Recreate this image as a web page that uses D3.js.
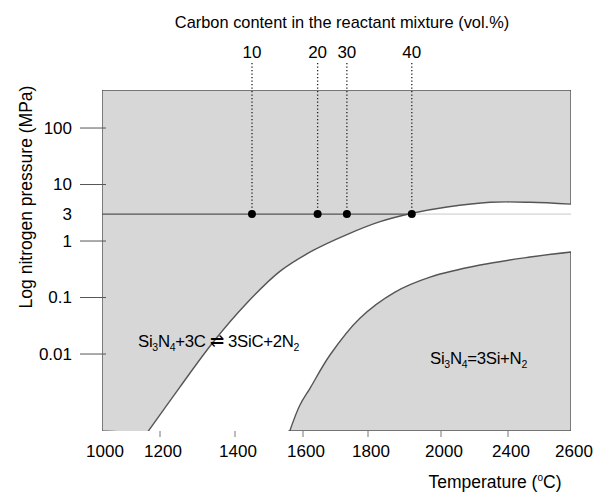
<!DOCTYPE html>
<html>
<head>
<meta charset="utf-8">
<script src="https://cdn.jsdelivr.net/npm/d3@7"></script>
<style>
  body { margin: 0; background: #fff; }
  svg { display: block; font-family: "Liberation Sans", Arial, sans-serif; }
</style>
</head>
<body>
<svg id="chart"></svg>
<script>
// temperature ticks (the original axis is not evenly spaced)
const tempTicks = [1000, 1200, 1400, 1600, 1800, 2000, 2400, 2600];
const pressTicks = [100, 10, 1, 0.1, 0.01];

// carbon content markers on the 3 MPa line
const carbonLabels = [10, 20, 30, 40];
const carbonTemps = [1450, 1645, 1735, 1920];
const linePressure = 3;

// Si3N4 + 3C = 3SiC + 2N2 boundary
const sicTemps = [1155, 1253, 1341, 1435, 1532, 1631, 1735, 1833, 1921, 2036, 2293, 2470, 2600];
const sicPress = [0.0004, 0.0026, 0.016, 0.08, 0.29, 0.68, 1.3, 2.2, 3.1, 4.0, 4.85, 4.85, 4.5];

// Si3N4 = 3Si + N2 boundary
const siTemps = [1559, 1591, 1622, 1683, 1775, 1874, 1970, 2233, 2470, 2600];
const siPress = [0.0004, 0.00125, 0.0025, 0.0096, 0.043, 0.125, 0.23, 0.376, 0.52, 0.64];

const width = 597, height = 493;
const m = { left: 102, right: 571, top: 90, bottom: 431 };

const svg = d3.select("#chart")
    .attr("width", width)
    .attr("height", height)
    .attr("viewBox", [0, 0, width, height]);

// piecewise x scale so ticks land where the drawing put them
const x = d3.scaleLinear()
    .domain(tempTicks)
    .range([m.left, 160, 235, 303, 368, 441, 508, m.right]);

const y = d3.scaleLog()
    .domain([0.000434, 471])
    .range([m.bottom, m.top]);

const sic = sicTemps.map((t, i) => [t, sicPress[i]]);
const si = siTemps.map((t, i) => [t, siPress[i]]);

const line = d3.line()
    .x(d => x(d[0]))
    .y(d => y(d[1]))
    .curve(d3.curveCatmullRom.alpha(0.5));

svg.append("defs").append("clipPath")
    .attr("id", "plot")
  .append("rect")
    .attr("x", m.left).attr("y", m.top)
    .attr("width", m.right - m.left).attr("height", m.bottom - m.top);

const plot = svg.append("g").attr("clip-path", "url(#plot)");

const grey = "#d7d7d7";

// upper-left grey region: frame corner, then back down the SiC curve
const sicRev = line(sic.slice().reverse());
plot.append("path")
    .attr("d", `M${m.left},${m.bottom}L${m.left},${m.top}L${m.right},${m.top}L${m.right},${y(sic[sic.length - 1][1])}`
        + sicRev.replace(/^M/, "L") + `L${m.left},${m.bottom}Z`)
    .attr("fill", grey)
    .attr("stroke", "#555")
    .attr("stroke-width", 1.4);

// lower-right grey region
plot.append("path")
    .attr("d", line(si) + `L${m.right},${m.bottom}L${x(si[0][0])},${m.bottom}Z`)
    .attr("fill", grey)
    .attr("stroke", "#555")
    .attr("stroke-width", 1.4);

// 3 MPa line
const y3 = y(linePressure);
const tCross = carbonTemps[carbonTemps.length - 1];
svg.append("line")
    .attr("x1", m.left).attr("x2", x(tCross))
    .attr("y1", y3).attr("y2", y3)
    .attr("stroke", "#555").attr("stroke-width", 1.2);
svg.append("line")
    .attr("x1", x(tCross)).attr("x2", m.right)
    .attr("y1", y3).attr("y2", y3)
    .attr("stroke", "#c8c8c8").attr("stroke-width", 1);

// dotted carbon-content guides and dots
svg.append("g")
  .selectAll("line")
  .data(carbonTemps)
  .join("line")
    .attr("x1", d => x(d)).attr("x2", d => x(d))
    .attr("y1", 63).attr("y2", y3)
    .attr("stroke", "#222")
    .attr("stroke-width", 1.3)
    .attr("stroke-dasharray", "1.3,2.2");

svg.append("g")
  .selectAll("circle")
  .data(carbonTemps)
  .join("circle")
    .attr("cx", d => x(d))
    .attr("cy", y3)
    .attr("r", 4)
    .attr("fill", "#000");

svg.append("g")
    .attr("text-anchor", "middle")
    .attr("font-size", 17)
  .selectAll("text")
  .data(carbonLabels)
  .join("text")
    .attr("x", (d, i) => x(carbonTemps[i]))
    .attr("y", 58)
    .text(d => d);

svg.append("text")
    .attr("x", 342).attr("y", 28)
    .attr("text-anchor", "middle")
    .attr("font-size", 16.4)
    .text("Carbon content in the reactant mixture  (vol.%)");

// y axis: ticks reach a little inside the frame
const yAxis = svg.append("g");
yAxis.selectAll("line")
  .data(pressTicks)
  .join("line")
    .attr("x1", 80).attr("x2", 106)
    .attr("y1", d => y(d)).attr("y2", d => y(d))
    .attr("stroke", "#555");
yAxis.selectAll("text")
  .data(pressTicks.concat([linePressure]))
  .join("text")
    .attr("x", 72)
    .attr("y", d => y(d))
    .attr("dy", "0.35em")
    .attr("text-anchor", "end")
    .attr("font-size", 17)
    .text(d => d);

svg.append("text")
    .attr("transform", `translate(32,197) rotate(-90)`)
    .attr("text-anchor", "middle")
    .attr("font-size", 17.5)
    .text("Log nitrogen pressure (MPa)");

// x axis
const xAxis = svg.append("g");
xAxis.selectAll("line")
  .data(tempTicks.slice(1, -1))
  .join("line")
    .attr("x1", d => x(d)).attr("x2", d => x(d))
    .attr("y1", m.bottom).attr("y2", m.bottom + 6)
    .attr("stroke", "#777");
xAxis.selectAll("text")
  .data(tempTicks)
  .join("text")
    .attr("x", d => x(d) + 3)
    .attr("y", 457)
    .attr("text-anchor", "middle")
    .attr("font-size", 17)
    .text(d => d);

const xt = svg.append("text")
    .attr("x", 495).attr("y", 488)
    .attr("text-anchor", "middle")
    .attr("font-size", 17.5);
xt.append("tspan").text("Temperature (");
xt.append("tspan").attr("font-size", 10).attr("dy", -7).text("o");
xt.append("tspan").attr("dy", 7).text("C)");

// reaction labels with subscripts
function chem(g, parts) {
  let shift = 0;
  parts.forEach(p => {
    if (p.sub) {
      g.append("tspan").attr("font-size", 10.5).attr("dy", 4 - shift).text(p.sub);
      shift = 4;
    } else {
      g.append("tspan").attr("dy", -shift).text(p.t);
      shift = 0;
    }
  });
}

const r1 = svg.append("text")
    .attr("x", 138).attr("y", 347)
    .attr("font-size", 16.8)
    .attr("letter-spacing", -0.3);
chem(r1, [{t: "Si"}, {sub: "3"}, {t: "N"}, {sub: "4"}, {t: "+3C \u21CC 3SiC+2N"}, {sub: "2"}]);

const r2 = svg.append("text")
    .attr("x", 430).attr("y", 364)
    .attr("font-size", 16.8)
    .attr("letter-spacing", -0.3);
chem(r2, [{t: "Si"}, {sub: "3"}, {t: "N"}, {sub: "4"}, {t: "=3Si+N"}, {sub: "2"}]);
</script>
</body>
</html>
